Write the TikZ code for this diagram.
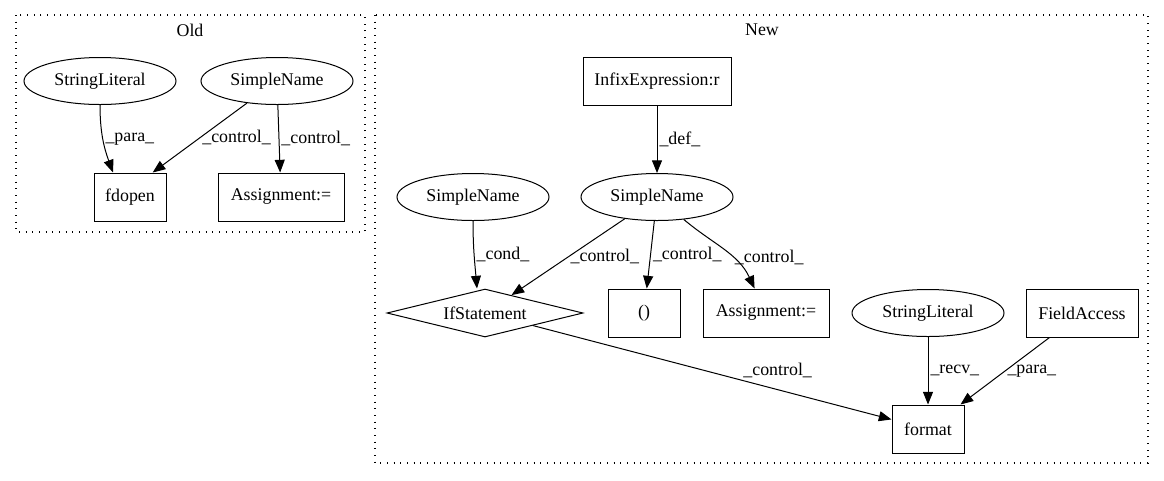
\documentclass[tikz,border=0pt]{standalone}
\usepackage{fontspec}
\setmainfont{Liberation Serif}
\usetikzlibrary{shapes.geometric,arrows.meta}
\newcommand{\gvfont}{\fontsize{13.4}{16}\selectfont}
\begin{document}
\begin{tikzpicture}[x=0.75pt,y=-0.75pt,
    caja/.style={draw, rectangle, line width=0.75pt, minimum height=36pt, inner sep=0pt, font=\gvfont},
    elipse/.style={draw, ellipse, line width=0.75pt, minimum width=114pt, minimum height=35.25pt, inner sep=0pt, font=\gvfont},
    rombo/.style={draw, diamond, line width=0.75pt, aspect=4, minimum width=147pt, minimum height=36pt, inner sep=0pt, font=\gvfont},
    flecha/.style={-{Triangle[length=9.5pt,width=7.5pt]}, line width=0.75pt},
    etiq/.style={font=\gvfont, inner sep=1.5pt, anchor=west},
    grupo/.style={line width=1pt, dash pattern=on 0.75pt off 4.25pt}]
    \useasboundingbox (0,0) rectangle (1164,480);
    % Grupo Old
    \draw[grupo] (16,15) rectangle (365,232);
    \node[font=\gvfont] (tOld) at (190,30) {Old};
    \node[elipse] (sl1) at (100,81) {StringLiteral};
    \node[elipse] (sn1) at (277,81) {SimpleName};
    \node[caja, minimum width=54pt] (fd) at (130,197) {fdopen};
    \node[caja, minimum width=94.5pt] (as1) at (281,197) {Assignment:=};
    % Grupo New
    \draw[grupo] (375,15) rectangle (1148,463);
    \node[font=\gvfont] (tNew) at (762,30) {New};
    \node[caja, minimum width=111pt] (infix) at (657,81) {InfixExpression:r};
    \node[elipse] (sn2) at (657,197) {SimpleName};
    \node[elipse] (sn3) at (473,197) {SimpleName};
    \node[rombo] (ifs) at (485,313) {IfStatement};
    \node[caja, minimum width=54pt] (par) at (644,313) {()};
    \node[caja, minimum width=94.5pt] (as2) at (766,313) {Assignment:=};
    \node[elipse] (sl2) at (928,313) {StringLiteral};
    \node[caja, minimum width=84pt] (fa) at (1082,313) {FieldAccess};
    \node[caja, minimum width=54pt] (fmt) at (928,429) {format};
    % Aristas Old
    \draw[flecha] (sl1.south) to[out=-90,in=110] node[etiq] {\_para\_} ([xshift=-12.75pt]fd.north);
    \draw[flecha] (sn1) -- node[etiq] {\_control\_} ([xshift=17pt]fd.north);
    \draw[flecha] (sn1) -- node[etiq] {\_control\_} (as1);
    % Aristas New
    \draw[flecha] (infix) -- node[etiq] {\_def\_} (sn2);
    \draw[flecha] (sn3.south) to[out=-90,in=95] node[etiq] {\_cond\_} ([xshift=-6pt]ifs.north);
    \draw[flecha] (sn2) -- node[etiq] {\_control\_} (ifs);
    \draw[flecha] (sn2) -- node[etiq] {\_control\_} (par);
    \draw[flecha] (sn2) to[out=-40,in=115] node[etiq, pos=0.62] {\_control\_} (as2);
    \draw[flecha] (ifs) -- node[etiq, pos=0.58, anchor=south west] {\_control\_} (fmt);
    \draw[flecha] (sl2) -- node[etiq] {\_recv\_} (fmt);
    \draw[flecha] (fa) -- node[etiq] {\_para\_} (fmt);
\end{tikzpicture}
\end{document}
